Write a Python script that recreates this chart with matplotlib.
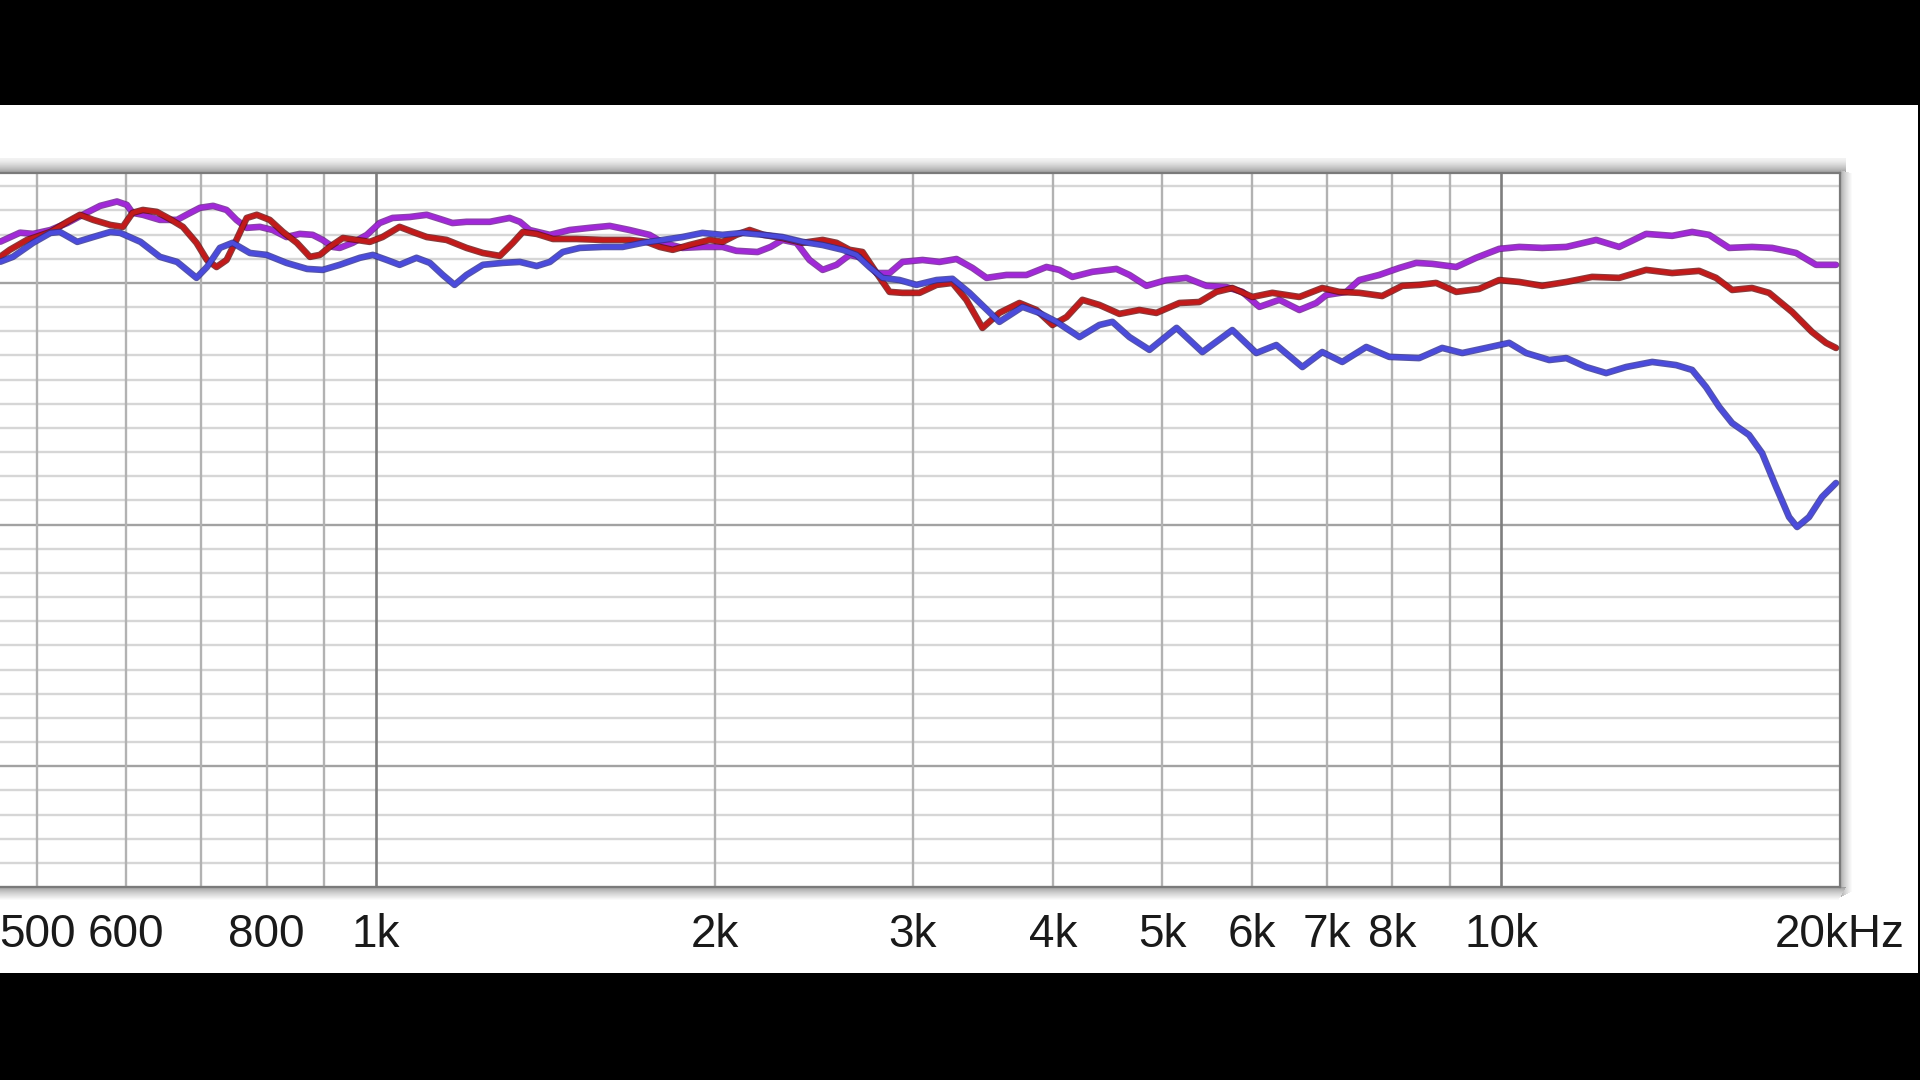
import numpy as np
import matplotlib
matplotlib.use("Agg")
import matplotlib.pyplot as plt
from matplotlib.patches import Rectangle
from matplotlib.ticker import NullLocator
import matplotlib.patheffects as pe

# ---------------- data (frequency in Hz, level in dB) ----------------
purple_freq = [464, 483, 496, 514, 532, 549, 569, 589, 601, 608, 621, 643, 666, 679, 698, 717, 737, 752, 768, 789,
               810, 833, 856, 879, 897, 916, 929, 954, 982, 1008, 1035, 1072, 1110, 1140, 1170, 1204, 1263, 1315, 1343, 1370,
               1428, 1487, 1549, 1614, 1681, 1751, 1800, 1873, 1951, 2033, 2091, 2184, 2243, 2298, 2365, 2429, 2495, 2567, 2636, 2707,
               2786, 2861, 2938, 3061, 3169, 3281, 3390, 3489, 3634, 3786, 3944, 4050, 4159, 4333, 4551, 4674, 4839, 5041, 5251, 5471,
               5698, 5888, 6097, 6352, 6617, 6850, 6991, 7284, 7480, 7791, 8117, 8405, 8683, 9121, 9500, 9959, 10376, 10874, 11426, 12144,
               12729, 13452, 14188, 14778, 15301, 15941, 16706, 17406, 18282, 19043, 19837]
purple_db = [1.71, 2.08, 2.03, 2.19, 2.48, 2.82, 3.19, 3.37, 3.23, 2.90, 2.82, 2.61, 2.61, 2.82, 3.11, 3.19, 3.02, 2.61, 2.28, 2.32,
             2.19, 1.90, 2.03, 1.99, 1.78, 1.49, 1.45, 1.66, 1.99, 2.48, 2.69, 2.73, 2.82, 2.65, 2.48, 2.53, 2.53, 2.69, 2.53, 2.19,
             1.99, 2.19, 2.28, 2.36, 2.19, 1.99, 1.66, 1.45, 1.49, 1.49, 1.33, 1.28, 1.49, 1.78, 1.66, 0.95, 0.54, 0.75, 1.16, 1.04,
             0.41, 0.41, 0.87, 0.95, 0.87, 0.99, 0.62, 0.21, 0.33, 0.33, 0.66, 0.54, 0.25, 0.46, 0.58, 0.33, -0.12, 0.12, 0.21, -0.12,
             -0.17, -0.37, -0.99, -0.70, -1.12, -0.83, -0.50, -0.37, 0.12, 0.33, 0.62, 0.83, 0.79, 0.66, 1.04, 1.41, 1.49, 1.45, 1.49, 1.78,
             1.49, 2.03, 1.95, 2.11, 1.99, 1.45, 1.49, 1.45, 1.24, 0.75, 0.75]

red_freq = [464, 473, 490, 514, 532, 546, 561, 581, 596, 608, 621, 639, 656, 674, 693, 708, 722, 737, 752, 768,
            784, 805, 827, 851, 874, 892, 910, 935, 962, 988, 1014, 1050, 1079, 1110, 1156, 1204, 1245, 1289, 1324, 1351,
            1390, 1437, 1508, 1591, 1681, 1741, 1788, 1836, 1900, 1980, 2033, 2091, 2149, 2211, 2298, 2395, 2495, 2567, 2636, 2707,
            2786, 2861, 2938, 3042, 3150, 3254, 3348, 3460, 3582, 3732, 3864, 3993, 4110, 4245, 4395, 4579, 4770, 4939, 5177, 5392,
            5584, 5769, 6010, 6261, 6617, 6934, 7180, 7480, 7839, 8167, 8457, 8754, 9121, 9555, 9959, 10376, 10874, 11426, 12044, 12729,
            13452, 14188, 14991, 15520, 16039, 16706, 17298, 18133, 18888, 19435, 19837]
red_db = [1.09, 1.37, 1.78, 2.11, 2.53, 2.82, 2.61, 2.40, 2.32, 2.90, 3.02, 2.94, 2.65, 2.32, 1.66, 0.95, 0.66, 0.95, 1.78, 2.69,
          2.82, 2.61, 2.11, 1.66, 1.08, 1.16, 1.49, 1.86, 1.78, 1.70, 1.90, 2.32, 2.11, 1.90, 1.78, 1.45, 1.24, 1.12, 1.66, 2.11,
          2.03, 1.82, 1.82, 1.78, 1.78, 1.70, 1.49, 1.37, 1.57, 1.78, 1.70, 1.99, 2.19, 1.99, 1.86, 1.66, 1.78, 1.66, 1.37, 1.28,
          0.41, -0.37, -0.41, -0.41, -0.08, 0.00, -0.70, -1.86, -1.24, -0.83, -1.12, -1.74, -1.41, -0.70, -0.91, -1.28, -1.12, -1.24, -0.83, -0.79,
          -0.37, -0.21, -0.58, -0.41, -0.58, -0.21, -0.37, -0.41, -0.54, -0.12, -0.08, 0.00, -0.37, -0.25, 0.12, 0.04, -0.12, 0.04, 0.25, 0.21,
          0.54, 0.41, 0.50, 0.21, -0.29, -0.21, -0.41, -1.20, -2.03, -2.48, -2.69]

blue_freq = [464, 476, 496, 514, 524, 543, 561, 581, 593, 618, 643, 666, 693, 708, 727, 746, 773, 800, 833, 869,
             897, 929, 968, 994, 1023, 1050, 1087, 1117, 1147, 1175, 1204, 1245, 1297, 1343, 1390, 1428, 1466, 1518, 1591, 1657,
             1726, 1800, 1873, 1951, 2033, 2118, 2211, 2298, 2395, 2495, 2600, 2674, 2746, 2820, 2920, 3023, 3150, 3254, 3369, 3582,
             3755, 3887, 4026, 4220, 4395, 4514, 4674, 4869, 5147, 5426, 5769, 6059, 6312, 6658, 6934, 7224, 7588, 7953, 8455, 8863,
             9235, 9694, 10165, 10523, 11032, 11426, 11897, 12395, 12912, 13619, 14303, 14778, 15207, 15620, 16039, 16603, 17052, 17551, 18022, 18320,
             18771, 19278, 19837]
blue_db = [0.88, 1.08, 1.66, 2.07, 2.11, 1.70, 1.90, 2.11, 2.07, 1.70, 1.08, 0.87, 0.21, 0.66, 1.45, 1.66, 1.24, 1.16, 0.83, 0.58,
           0.54, 0.75, 1.04, 1.16, 0.95, 0.75, 1.04, 0.83, 0.33, -0.08, 0.33, 0.75, 0.83, 0.87, 0.70, 0.87, 1.28, 1.45, 1.49, 1.49,
           1.66, 1.78, 1.90, 2.07, 1.99, 2.07, 1.99, 1.90, 1.70, 1.57, 1.37, 1.16, 0.66, 0.21, 0.12, -0.08, 0.12, 0.17, -0.41, -1.61,
           -0.99, -1.24, -1.61, -2.24, -1.74, -1.61, -2.24, -2.77, -1.86, -2.86, -1.95, -2.90, -2.57, -3.48, -2.86, -3.27, -2.65, -3.06, -3.11, -2.69,
           -2.90, -2.69, -2.48, -2.90, -3.19, -3.11, -3.48, -3.73, -3.48, -3.27, -3.40, -3.60, -4.31, -5.13, -5.80, -6.29, -7.04, -8.45, -9.69, -10.10,
           -9.69, -8.86, -8.28]

tick_freqs = [500, 600, 800, 1000, 2000, 3000, 4000, 5000, 6000, 7000, 8000, 10000, 20000]
tick_labels = ["500", "600", "800", "1k", "2k", "3k", "4k", "5k", "6k", "7k", "8k", "10k", "20kHz"]
minor_grid_freqs = [500, 600, 700, 800, 900, 2000, 3000, 4000, 5000, 6000, 7000, 8000, 9000]
decade_grid_freqs = [1000, 10000]
db_grid = list(range(-25, 5))
db_major_grid = [0, -10, -20]
x_limits = (463.6, 20000)
y_limits = (-25, 4.55)

# ---------------- figure ----------------
W, H = 1920, 1080
fig = plt.figure(figsize=(W / 100, H / 100), dpi=100, facecolor="black")


def fx(px):
    return px / W


def fy(py):
    return 1 - py / H


def add_rect(x0, y0, x1, y1, color, z):
    fig.patches.append(Rectangle((fx(x0), fy(y1)), fx(x1) - fx(x0), fy(y0) - fy(y1),
                                 transform=fig.transFigure, facecolor=color,
                                 edgecolor="none", zorder=z))


# white panel between black bands
add_rect(0, 105, 1918, 973, "white", -5)

# soft shadow around the plot frame
top_steps = 15
for i in range(top_steps):
    g = 0.95 - 0.33 * (i / (top_steps - 1)) ** 1.4
    add_rect(0, 158 + i, 1846, 159 + i, (g, g, g), -4)
right_steps = 12
for i in range(right_steps):
    g = 0.66 + 0.32 * (i / (right_steps - 1)) ** 0.8
    add_rect(1840 + i, 170 + i * 0.3, 1841 + i, 897 - i * 0.5, (g, g, g), -4)
bot_steps = 13
for i in range(bot_steps):
    g = 0.62 + 0.36 * (i / (bot_steps - 1)) ** 0.8
    add_rect(0, 887 + i, 1846 - i * 0.6, 888 + i, (g, g, g), -4)

ax = fig.add_axes([0, fy(887), fx(1840), fy(173) - fy(887)])
ax.set_zorder(1)
ax.set_facecolor("white")
ax.set_xscale("log")
ax.set_xlim(*x_limits)
ax.set_ylim(*y_limits)

for d in db_grid:
    if d in db_major_grid:
        ax.axhline(d, color="#a2a2a2", lw=1.7, zorder=1)
    else:
        ax.axhline(d, color="#d6d6d6", lw=1.7, zorder=1)
for f in minor_grid_freqs:
    ax.axvline(f, color="#b2b2b2", lw=1.7, zorder=1.5)
for f in decade_grid_freqs:
    ax.axvline(f, color="#7e7e7e", lw=1.9, zorder=1.5)

series = [
    (purple_freq, purple_db, "#a128d8", "#6a168f"),
    (red_freq, red_db, "#c21a1a", "#6a0c0c"),
    (blue_freq, blue_db, "#4b4bdc", "#2c2c90"),
]
for fr, db, col, edge in series:
    ax.plot(fr, db, color=col, lw=3.2, zorder=3, solid_joinstyle="round",
            solid_capstyle="round",
            path_effects=[pe.Stroke(linewidth=4.8, foreground=edge, alpha=0.8,
                                    joinstyle="round", capstyle="round"),
                          pe.Normal()])

ax.set_xticks(tick_freqs)
ax.set_xticklabels(tick_labels, family="Liberation Sans")
ax.xaxis.set_minor_locator(NullLocator())
ax.set_yticks([])
ax.tick_params(axis="x", length=0, pad=19, labelsize=33, labelcolor="#1a1a1a")

for side in ["top", "bottom", "right"]:
    ax.spines[side].set_color("#7a7a7a")
    ax.spines[side].set_linewidth(1.6)
ax.spines["left"].set_visible(False)

fig.savefig("out.png", dpi=100, facecolor="black")
